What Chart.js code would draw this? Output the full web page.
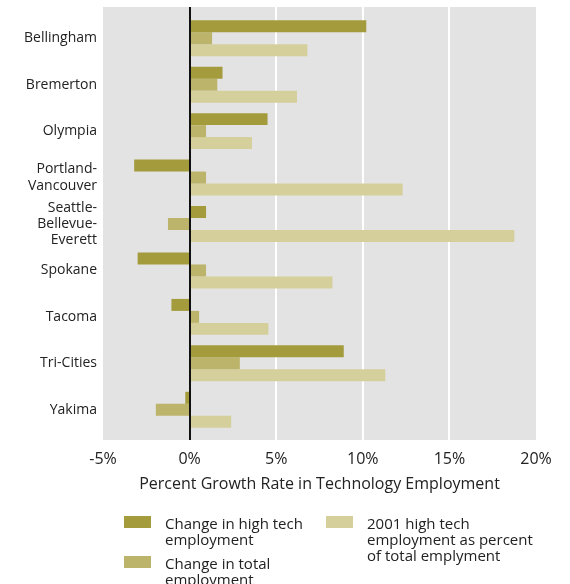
<!DOCTYPE html>
<html lang="en">
<head>
    <meta charset="UTF-8">
    <title>Percent Growth Rate in Technology Employment</title>
    <script src="https://cdn.jsdelivr.net/npm/chart.js"></script>
    <style>
        body { margin: 0; background: #fff; font-family: "Open Sans", sans-serif; color: #222; }
        #wrap { position: relative; width: 570px; height: 584px; overflow: hidden; }
        .leg { position: absolute; display: flex; font-size: 15px; line-height: 16px; color: #222; }
        .leg span.sw { display: inline-block; width: 27px; height: 12px; margin-top: 1px; margin-right: 14px; flex: none; }
    </style>
</head>
<body>
    <div id="wrap">
        <canvas id="techChart"></canvas>
    </div>

    <script>
        const regions = ['Bellingham', 'Bremerton', 'Olympia', ['Portland-', 'Vancouver'],
            ['Seattle-', 'Bellevue-', 'Everett'], 'Spokane', 'Tacoma', 'Tri-Cities', 'Yakima'];
        const highTechChange = [10.2, 1.9, 4.5, -3.2, 0.95, -3.0, -1.05, 8.9, -0.25];
        const totalChange = [1.3, 1.6, 0.95, 0.95, -1.25, 0.95, 0.55, 2.9, -1.95];
        const share2001 = [6.8, 6.2, 3.6, 12.3, 18.75, 8.25, 4.55, 11.3, 2.4];
        const seriesNames = ['Change in high tech employment', 'Change in total employment',
            '2001 high tech employment as percent of total emplyment'];
        const xTicks = [-5, 0, 5, 10, 15, 20];

        const colors = ['#a39b3c', '#bcb46a', '#d5cf9b'];

        // grey panel a bit taller than the bar area, with white gridlines and the black zero line
        const panel = {
            id: 'panel',
            beforeDatasetsDraw(chart) {
                const { ctx, chartArea: a, scales: { x } } = chart;
                ctx.save();
                ctx.fillStyle = '#e3e3e3';
                ctx.fillRect(a.left, a.top - 8, a.right - a.left, a.bottom - a.top + 15);
                ctx.strokeStyle = '#fff';
                ctx.lineWidth = 2;
                [5, 10, 15].forEach(v => {
                    const px = Math.round(x.getPixelForValue(v));
                    ctx.beginPath();
                    ctx.moveTo(px, a.top - 8);
                    ctx.lineTo(px, a.bottom + 7);
                    ctx.stroke();
                });
                ctx.restore();
            },
            afterDatasetsDraw(chart) {
                const { ctx, chartArea: a, scales: { x } } = chart;
                const px = Math.round(x.getPixelForValue(0));
                ctx.save();
                ctx.strokeStyle = '#111';
                ctx.lineWidth = 2;
                ctx.beginPath();
                ctx.moveTo(px, a.top - 8);
                ctx.lineTo(px, a.bottom + 7);
                ctx.stroke();
                ctx.restore();
            }
        };

        const ctx = document.getElementById('techChart').getContext('2d');
        const chart = new Chart(ctx, {
            type: 'bar',
            data: {
                labels: regions,
                datasets: [highTechChange, totalChange, share2001].map((d, i) => ({
                    label: seriesNames[i],
                    data: d,
                    backgroundColor: colors[i],
                    borderWidth: 0,
                    categoryPercentage: 0.774,
                    barPercentage: 1.0
                }))
            },
            options: {
                indexAxis: 'y',
                responsive: true,
                maintainAspectRatio: false,
                animation: false,
                layout: { padding: { left: 0, right: 34, top: 15, bottom: 90 } },
                plugins: {
                    legend: { display: false },
                    tooltip: { enabled: false }
                },
                scales: {
                    x: {
                        min: -5,
                        max: 20,
                        afterBuildTicks: s => { s.ticks = xTicks.map(v => ({ value: v })); },
                        afterFit: s => { s.height = 61; },
                        grid: { display: false, drawTicks: false },
                        border: { display: false },
                        ticks: {
                            padding: 17,
                            color: '#222',
                            font: { family: 'Open Sans', size: 16 },
                            callback: v => v + '%'
                        },
                        title: {
                            display: true,
                            text: 'Percent Growth Rate in Technology Employment',
                            color: '#222',
                            font: { family: 'Open Sans', size: 16 },
                            padding: { top: 5, bottom: 0 }
                        }
                    },
                    y: {
                        afterFit: s => { s.width = 103; },
                        grid: { display: false, drawTicks: false },
                        border: { display: false },
                        ticks: {
                            autoSkip: false,
                            padding: 6,
                            color: '#222',
                            font: { family: 'Open Sans', size: 14, lineHeight: 1.15 }
                        }
                    }
                }
            },
            plugins: [panel]
        });

        // legend in two columns under the axis title
        const legendPos = [[124, 515, 150], [124, 555, 150], [326, 515, 175]];
        chart.data.datasets.forEach((ds, i) => {
            const el = document.createElement('div');
            el.className = 'leg';
            el.style.left = legendPos[i][0] + 'px';
            el.style.top = legendPos[i][1] + 'px';
            el.innerHTML = '<span class="sw" style="background:' + ds.backgroundColor + '"></span>' +
                '<span style="width:' + legendPos[i][2] + 'px">' + ds.label + '</span>';
            document.getElementById('wrap').appendChild(el);
        });
    </script>
</body>
</html>
